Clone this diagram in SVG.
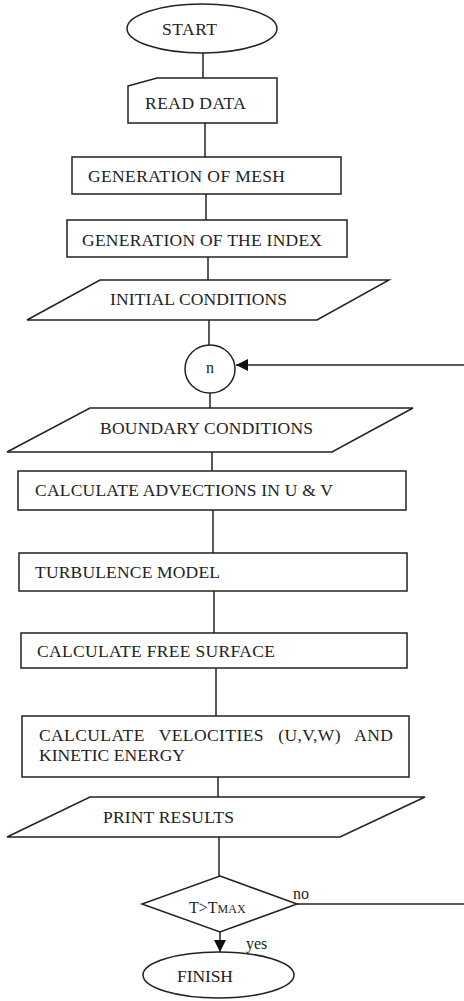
<svg xmlns="http://www.w3.org/2000/svg" width="464" height="1001" viewBox="0 0 464 1001">
<style>
.s{fill:#fff;stroke:#222;stroke-width:1.5}
.c{fill:none;stroke:#222;stroke-width:1.5}
text{font-family:"Liberation Serif","Times New Roman",serif;font-size:17.5px;fill:#222}
.sm{font-size:12px}
.lb{font-size:16px}
</style>
<defs>
<marker id="ah" viewBox="0 0 12 12" refX="12" refY="6" markerWidth="12" markerHeight="12" markerUnits="userSpaceOnUse" orient="auto">
<path d="M0,0 L12,6 L0,12 Z" fill="#111"/>
</marker>
</defs>
<rect width="464" height="1001" fill="#fff"/>
<g id="connectors">
<line class="c" x1="203" y1="53" x2="203" y2="78"/>
<line class="c" x1="205" y1="123" x2="205" y2="157"/>
<line class="c" x1="206" y1="194" x2="206" y2="220"/>
<line class="c" x1="208" y1="257" x2="208" y2="280"/>
<line class="c" x1="209" y1="320" x2="209" y2="345"/>
<line class="c" x1="210" y1="393" x2="210" y2="408"/>
<line class="c" x1="212" y1="452" x2="212" y2="471"/>
<line class="c" x1="213" y1="510" x2="213" y2="553"/>
<line class="c" x1="214" y1="591" x2="214" y2="633"/>
<line class="c" x1="216" y1="668" x2="216" y2="716"/>
<line class="c" x1="218" y1="777" x2="218" y2="797"/>
<line class="c" x1="219" y1="837" x2="219" y2="876"/>
<line class="c" x1="220" y1="932" x2="220" y2="952" marker-end="url(#ah)"/>
<line class="c" x1="297" y1="904" x2="464" y2="904"/>
<line class="c" x1="464" y1="365" x2="236" y2="365" marker-end="url(#ah)"/>
<text class="lb" x="293" y="899">no</text>
<text class="lb" x="246" y="949">yes</text>
</g>
<g id="start">
<ellipse class="s" cx="202" cy="28.5" rx="75" ry="24.5"/>
<text x="162" y="35" textLength="55">START</text>
</g>
<g id="read-data">
<polygon class="s" points="128,86 157,78 277,78 277,123 128,123"/>
<text x="145" y="109" textLength="101">READ DATA</text>
</g>
<g id="mesh">
<rect class="s" x="72" y="157" width="269" height="37"/>
<text x="88" y="182" textLength="197">GENERATION OF MESH</text>
</g>
<g id="index">
<rect class="s" x="67" y="220" width="280" height="37"/>
<text x="82" y="246" textLength="240">GENERATION OF THE INDEX</text>
</g>
<g id="initial">
<polygon class="s" points="100,280 389,280 317,320 27,320"/>
<text x="110" y="305" textLength="177">INITIAL CONDITIONS</text>
</g>
<g id="n">
<ellipse class="s" cx="210" cy="369" rx="25" ry="24"/>
<text x="210" y="373" text-anchor="middle" class="lb">n</text>
</g>
<g id="boundary">
<polygon class="s" points="90,408 413,408 332,452 7,452"/>
<text x="100" y="434" textLength="213">BOUNDARY CONDITIONS</text>
</g>
<g id="advections">
<rect class="s" x="18" y="471" width="388" height="39"/>
<text x="35" y="496" textLength="298">CALCULATE ADVECTIONS IN U &amp; V</text>
</g>
<g id="turbulence">
<rect class="s" x="19" y="553" width="388" height="38"/>
<text x="35" y="578" textLength="185">TURBULENCE MODEL</text>
</g>
<g id="free-surface">
<rect class="s" x="21" y="633" width="386" height="35"/>
<text x="37" y="657" textLength="238">CALCULATE FREE SURFACE</text>
</g>
<g id="velocities">
<rect class="s" x="22" y="716" width="387" height="61"/>
<text x="39" y="741" textLength="354" xml:space="preserve">CALCULATE   VELOCITIES   (U,V,W)   AND</text>
<text x="39" y="761" textLength="146">KINETIC ENERGY</text>
</g>
<g id="print">
<polygon class="s" points="90,797 425,797 340,837 7,837"/>
<text x="103" y="823" textLength="131">PRINT RESULTS</text>
</g>
<g id="decision">
<polygon class="s" points="220,876 297,904 220,932 142,904"/>
<text x="189" y="913" class="lb">T&gt;T<tspan class="sm">MAX</tspan></text>
</g>
<g id="finish">
<ellipse class="s" cx="218.5" cy="975" rx="75.5" ry="23"/>
<text x="177" y="982" textLength="56">FINISH</text>
</g>
</svg>
